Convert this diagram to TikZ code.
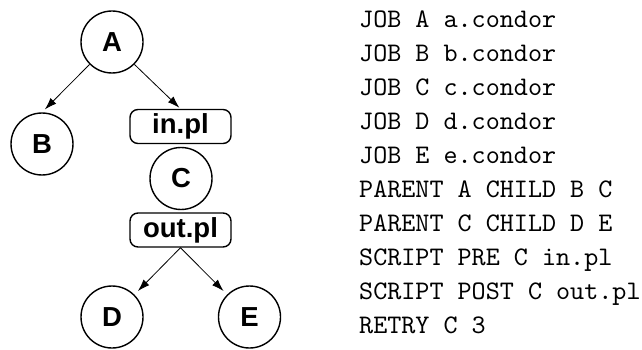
\documentclass[tikz,border=0pt]{standalone}
\usepackage{fontspec}
\newfontfamily\nodefont{Liberation Sans}
\font\codefnt=cmtt10 at 26.8pt
\usetikzlibrary{arrows.meta}
\begin{document}
\begin{tikzpicture}[x=1pt,y=-1pt,
  job/.style={draw,circle,line width=1.4pt,minimum size=62pt,inner sep=0pt,font=\nodefont\bfseries\fontsize{27.5}{27.5}\selectfont},
  scr/.style={draw,rounded corners=8pt,line width=1.4pt,minimum width=101pt,minimum height=34pt,inner sep=0pt,font=\nodefont\bfseries\fontsize{27.5}{27.5}\selectfont},
  edge/.style={line width=0.8pt,-{Latex[length=12pt,width=8pt]}},
  code/.style={anchor=base west,inner sep=0pt,font=\codefnt}]
\useasboundingbox (0,0) rectangle (642,350);
\node[job] (A) at (112,42) {A};
\node[job] (B) at (42,144) {B};
\node[scr] (inpl) at (180.5,126.5) {in.pl};
\node[job] (C) at (181,178.5) {C};
\node[scr] (outpl) at (180.5,230) {out.pl};
\node[job] (D) at (112,317) {D};
\node[job] (E) at (249.5,317) {E};
\draw[edge,shorten >=4pt] (A.225) -- (B.north);
\draw[edge,shorten >=1.5pt] (A.-45) -- (inpl.north);
\draw[edge,shorten >=5pt] (outpl.south) -- (D.45);
\draw[edge,shorten >=5pt] (outpl.south) -- (E.135);
\foreach \t [count=\i from 0] in {JOB A a.condor,JOB B b.condor,JOB C c.condor,JOB D d.condor,JOB E e.condor,PARENT A CHILD B C,PARENT C CHILD D E,SCRIPT PRE C in.pl,SCRIPT POST C out.pl,RETRY C 3}
  \node[code] (line\i) at (359,28+33.9*\i) {\t};
\end{tikzpicture}
\end{document}
